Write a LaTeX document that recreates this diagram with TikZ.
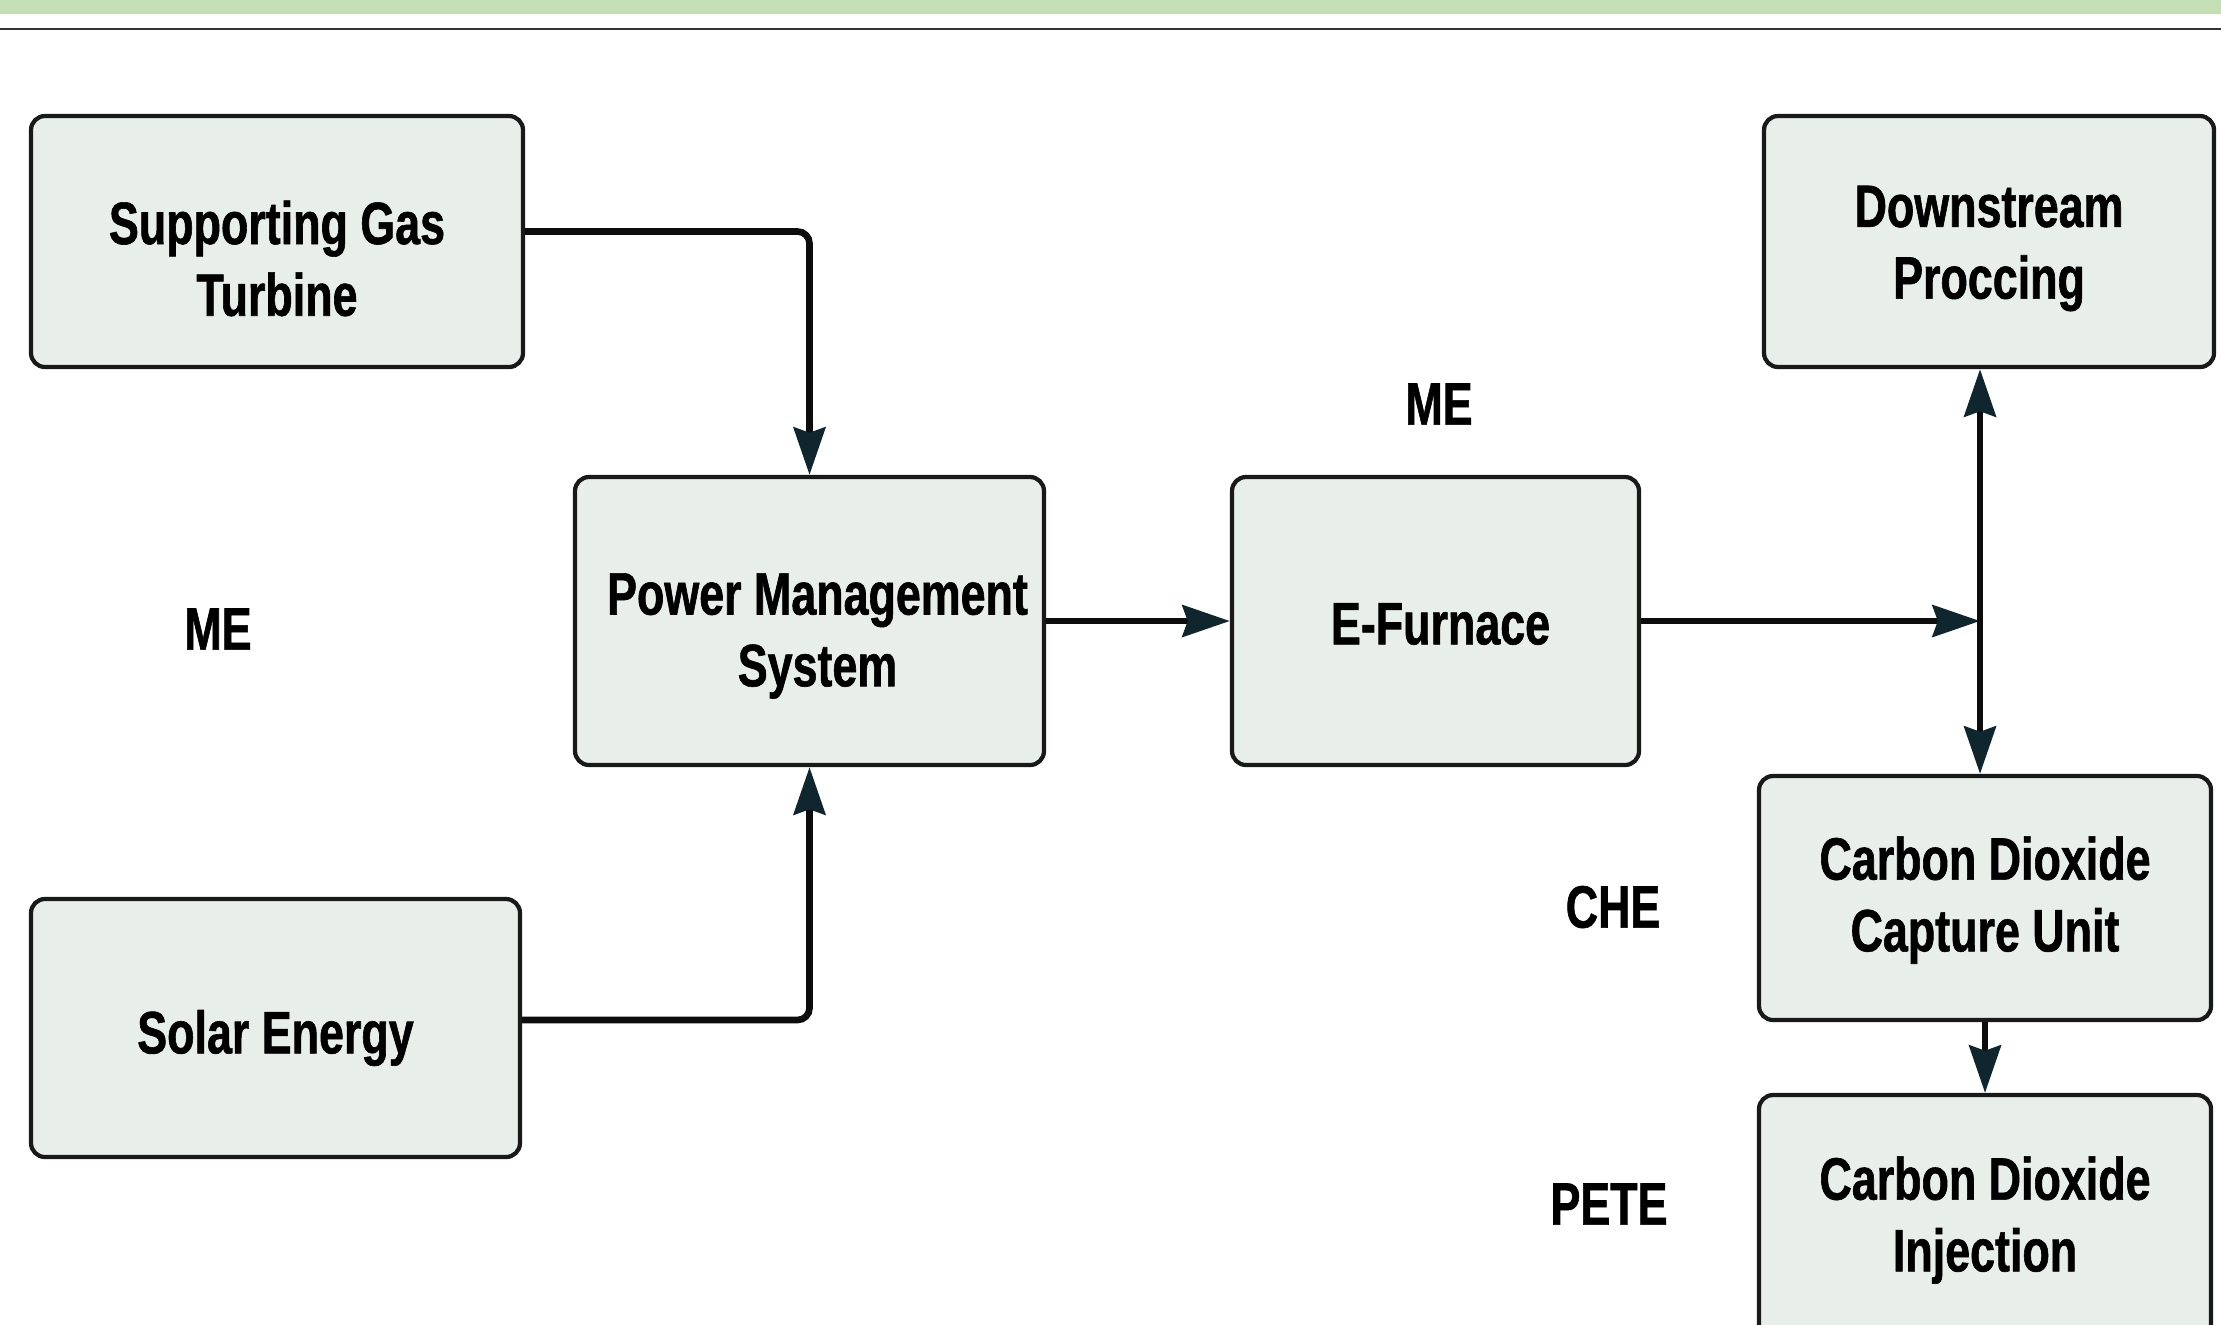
\documentclass[tikz,border=0pt]{standalone}
\usepackage{fontspec}
\setmainfont{Liberation Sans}[FakeStretch=0.75, BoldFeatures={FakeBold=1}]
\usetikzlibrary{arrows.meta}
\definecolor{barGreen}{HTML}{C5DFB4}
\definecolor{boxFill}{HTML}{E8EFEB}
\definecolor{tipDark}{HTML}{10262F}
\tikzset{
	>={Stealth[length=13.5pt,width=9pt,inset=1.5pt,color=tipDark]},
	unit/.style={draw=black!90, line width=1.2pt, fill=boxFill, rounded corners=0.14cm, inner sep=0pt},
	tag/.style={align=center, inner sep=0pt, font=\bfseries\fontsize{17}{20.4}\selectfont},
	dept/.style={font=\bfseries\fontsize{17}{20.4}\selectfont},
	flow/.style={line width=1.9pt, draw=black!95, ->},
}

\begin{document}
\begin{tikzpicture}
		%%%%% START %%%%%
		\useasboundingbox (0, 0) rectangle (22.21, -13.24);
		\clip (0, 0) rectangle (22.21, -13.24);
		
		\fill[barGreen] (0, 0) rectangle (22.21, -0.14);
		\draw[line width=0.6pt, color=black!80] (0, -0.29) -- (22.21, -0.29);
		
		\node[unit, minimum width=4.92cm, minimum height=2.51cm, label={[tag, yshift=-0.17cm]center:{Supporting Gas\\Turbine}}] (sgt) at (2.77, -2.415) {};
		\node[unit, minimum width=4.89cm, minimum height=2.58cm, label={[tag, yshift=-0.10cm]center:{Solar Energy}}] (solar) at (2.755, -10.28) {};
		\node[unit, minimum width=4.69cm, minimum height=2.88cm, label={[tag, xshift=0.08cm, yshift=-0.15cm]center:{Power Management\\System}}] (pms) at (8.095, -6.21) {};
		\node[unit, minimum width=4.07cm, minimum height=2.88cm, label={[tag, xshift=0.05cm, yshift=-0.03cm]center:{E-Furnace}}] (efurn) at (14.355, -6.21) {};
		\node[unit, minimum width=4.50cm, minimum height=2.51cm, label={[tag, yshift=-0.07cm]center:{Downstream\\Proccing}}] (down) at (19.89, -2.415) {};
		\node[unit, minimum width=4.52cm, minimum height=2.44cm, label={[tag, yshift=-0.02cm]center:{Carbon Dioxide\\Capture Unit}}] (capt) at (19.85, -8.98) {};
		\node[unit, minimum width=4.52cm, minimum height=2.50cm, label={[tag]center:{Carbon Dioxide\\Injection}}] (inj) at (19.85, -12.20) {};
		
		\node[dept] (me1) at (2.18, -6.29) {ME};
		\node[dept] (me2) at (14.39, -4.04) {ME};
		\node[dept] (che) at (16.13, -9.07) {CHE};
		\node[dept] (pete) at (16.09, -12.04) {PETE};
		
		\coordinate (junc) at (19.80, -6.21);
		
		\draw[flow, rounded corners=0.12cm] ([yshift=0.1cm]sgt.east) -| (pms.north);
		\draw[flow, rounded corners=0.12cm] ([yshift=0.08cm]solar.east) -| (pms.south);
		\draw[flow] (pms.east) -- (efurn.west);
		\draw[flow] (efurn.east) -- (junc);
		\draw[flow, <->] (junc |- down.south) -- (junc |- capt.north);
		\draw[flow] (capt.south) -- (inj.north);
		%%%%% END %%%%%
	\end{tikzpicture}
\end{document}
